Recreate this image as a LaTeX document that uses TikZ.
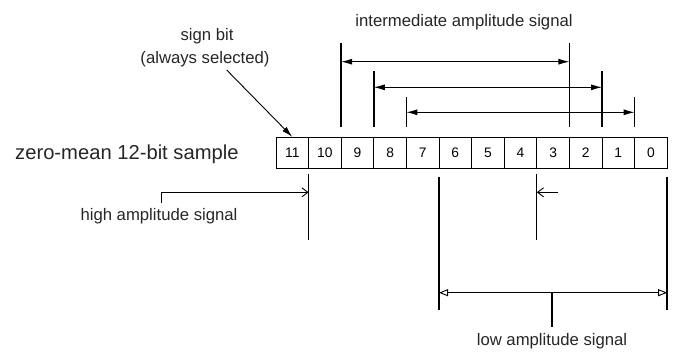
\documentclass[tikz,border=0pt]{standalone}
\usepackage{fontspec}
\setmainfont{Liberation Sans}
\usetikzlibrary{arrows.meta}
\begin{document}
\begin{tikzpicture}[x=1pt,y=-1pt,
  bitbox/.style={draw, line width=0.8pt, minimum width=32.6pt, minimum height=31pt, inner sep=0pt, font=\fontsize{13.8}{15}\selectfont},
  bar/.style={line width=1.6pt},
  dim/.style={line width=0.9pt},
  lbl/.style={font=\fontsize{16.7}{18}\selectfont, inner sep=0pt, anchor=base, text=black!85},
  fillhead/.style={-{Latex[length=11pt,width=6pt]}},
  bothfill/.style={{Latex[length=11pt,width=6pt]}-{Latex[length=11pt,width=6pt]}},
  bothopen/.style={{Triangle[open,length=9pt,width=7pt]}-{Triangle[open,length=9pt,width=7pt]}},
  barb/.style={-{Straight Barb[length=6pt,width=9pt]}}]
\useasboundingbox (0,0) rectangle (675,351);
% bit boxes
\foreach \i in {0,...,11}
  \node[bitbox] (b\i) at ({276+32.6*(11-\i)+16.3},152.8) {\i};
\node[lbl, anchor=base west, font=\fontsize{20.2}{22}\selectfont] (main) at (15,159) {zero-mean 12-bit sample};
% sign bit
\node[lbl] (sign1) at (207,40) {sign bit};
\node[lbl] (sign2) at (205,63.3) {(always selected)};
\coordinate (sgs) at (226.7,70);
\draw[dim, fillhead] (sgs) -- (b11.north);
% intermediate
\node[lbl] (inter) at (464,26.7) {intermediate amplitude signal};
\coordinate (iL1t) at (341.2,43);  \coordinate (iL1b) at (341.2,127);
\coordinate (iR1t) at (569.4,43);  \coordinate (iR1b) at (569.4,127);
\coordinate (iL2t) at (373.8,71);  \coordinate (iL2b) at (373.8,127);
\coordinate (iR2t) at (602,71);    \coordinate (iR2b) at (602,127);
\coordinate (iL3t) at (406.4,97);  \coordinate (iL3b) at (406.4,127);
\coordinate (iR3t) at (634.6,97);  \coordinate (iR3b) at (634.6,127);
\foreach \k in {1,2,3} \draw[bar] (iL\k t) -- (iL\k b) (iR\k t) -- (iR\k b);
\coordinate (a1l) at (341.2,61.7); \coordinate (a1r) at (569.4,61.7);
\coordinate (a2l) at (373.8,87.3); \coordinate (a2r) at (602,87.3);
\coordinate (a3l) at (406.4,112.3); \coordinate (a3r) at (634.6,112.3);
\foreach \k in {1,2,3} \draw[dim, bothfill] (a\k l) -- (a\k r);
% high amplitude
\coordinate (hbt) at (308.6,174); \coordinate (hbb) at (308.6,240);
\draw[bar] (hbt) -- (hbb);
\coordinate (hst) at (161.7,203.3); \coordinate (hsc) at (161.7,192.3); \coordinate (hse) at (308.6,192.3);
\draw[dim, barb] (hst) -- (hsc) -- (hse);
\node[lbl] (high) at (159,220.5) {high amplitude signal};
% middle marker
\coordinate (mbt) at (536.8,174); \coordinate (mbb) at (536.8,240);
\draw[dim] (mbt) -- (mbb);
\coordinate (mas) at (557.7,192.3); \coordinate (mae) at (536.8,192.3);
\draw[dim, barb] (mas) -- (mae);
% low amplitude
\coordinate (lLt) at (439,176.7); \coordinate (lLb) at (439,310);
\coordinate (lRt) at (667.2,176.7); \coordinate (lRb) at (667.2,310);
\draw[bar] (lLt) -- (lLb) (lRt) -- (lRb);
\coordinate (lal) at (439,292.7); \coordinate (lar) at (667.2,292.7);
\draw[dim, bothopen] (lal) -- (lar);
\coordinate (ltt) at (552,292.7); \coordinate (ltb) at (552,326.7);
\draw[bar] (ltt) -- (ltb);
\node[lbl] (low) at (552,345) {low amplitude signal};
\end{tikzpicture}
\end{document}
